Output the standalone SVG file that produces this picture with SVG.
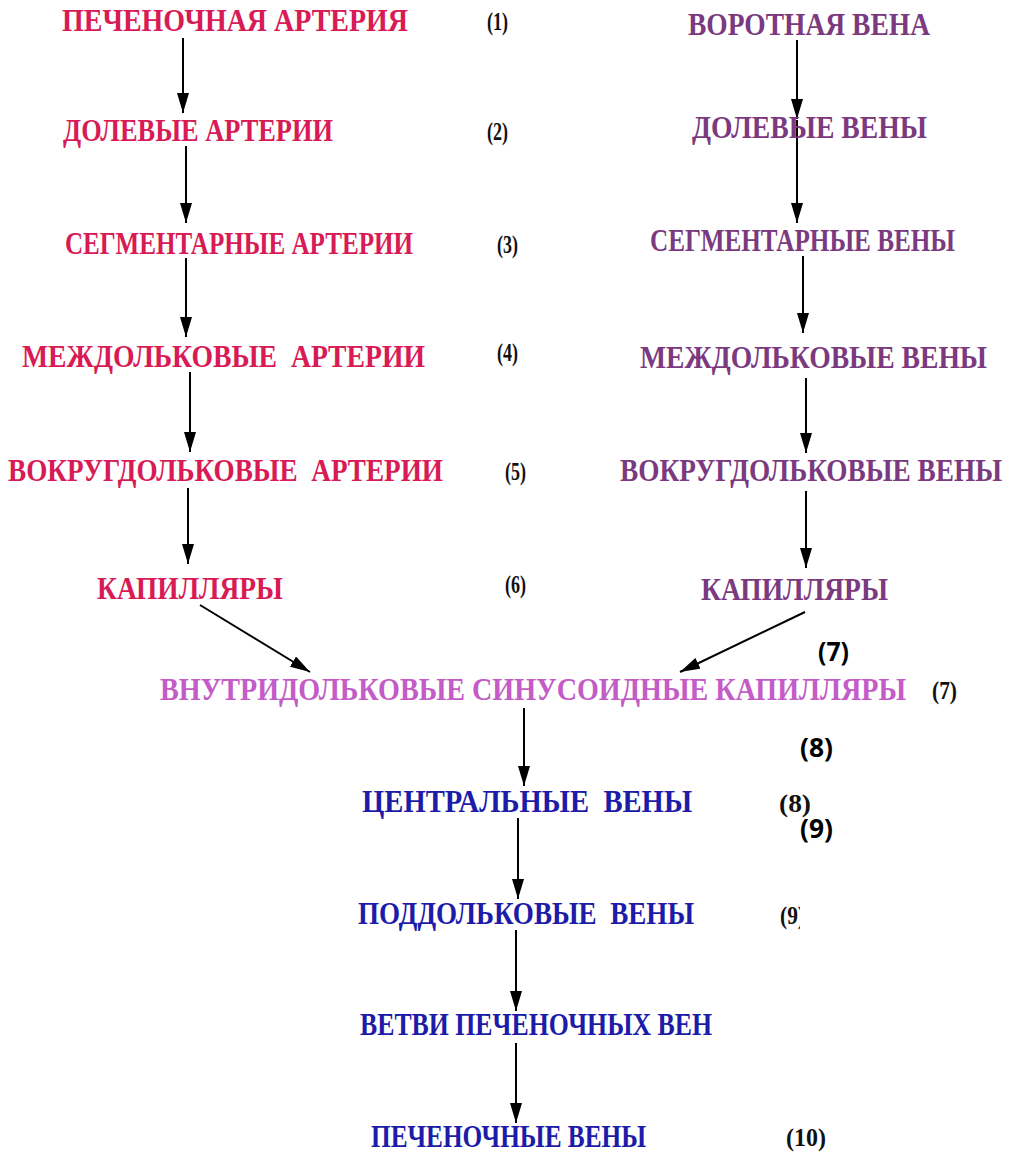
<svg xmlns="http://www.w3.org/2000/svg" width="1019" height="1153" viewBox="0 0 1019 1153">
<defs>
<marker id="ad" viewBox="0 0 20 12" refX="20" refY="6" markerWidth="20" markerHeight="12" markerUnits="userSpaceOnUse" orient="auto">
<path d="M0,0 L20,6 L0,12 Z" fill="#000"/>
</marker>
<clipPath id="cut9"><rect x="700" y="880" width="100" height="60"/></clipPath>
</defs>
<style>
text{font-family:"Liberation Serif","DejaVu Serif",serif;font-weight:bold;font-size:32px}
.r{fill:#d81b55}
.p{fill:#7b3a80}
.m{fill:#c35cc6}
.b{fill:#1c1ca8}
.n{fill:#111;font-size:25px}
.s{fill:#000;font-family:"Open Sans","Liberation Sans",sans-serif;font-size:27px}
.c line{stroke:#000;stroke-width:2}
</style>
<rect width="1019" height="1153" fill="#fff"/>
<g id="connectors" class="c">
<line x1="183" y1="38" x2="183" y2="113" marker-end="url(#ad)"/>
<line x1="186" y1="146" x2="186" y2="223" marker-end="url(#ad)"/>
<line x1="186" y1="258" x2="186" y2="337" marker-end="url(#ad)"/>
<line x1="190" y1="372" x2="190" y2="452" marker-end="url(#ad)"/>
<line x1="188" y1="488" x2="188" y2="564" marker-end="url(#ad)"/>
<line x1="797" y1="40" x2="797" y2="119" marker-end="url(#ad)"/>
<line x1="797" y1="120" x2="797" y2="223" marker-end="url(#ad)"/>
<line x1="803" y1="256" x2="803" y2="333" marker-end="url(#ad)"/>
<line x1="806" y1="378" x2="806" y2="453" marker-end="url(#ad)"/>
<line x1="806" y1="491" x2="806" y2="568" marker-end="url(#ad)"/>
<line x1="200" y1="605" x2="310" y2="672" marker-end="url(#ad)"/>
<line x1="805" y1="612" x2="680" y2="672" marker-end="url(#ad)"/>
<line x1="524" y1="708" x2="524" y2="786" marker-end="url(#ad)"/>
<line x1="518" y1="818" x2="518" y2="899" marker-end="url(#ad)"/>
<line x1="516" y1="930" x2="516" y2="1011" marker-end="url(#ad)"/>
<line x1="516" y1="1043" x2="516" y2="1123" marker-end="url(#ad)"/>
</g>
<g id="n1"><text class="r" x="62" y="31" textLength="346" lengthAdjust="spacingAndGlyphs">ПЕЧЕНОЧНАЯ АРТЕРИЯ</text></g>
<g id="n2"><text class="r" x="63" y="141" textLength="270" lengthAdjust="spacingAndGlyphs">ДОЛЕВЫЕ АРТЕРИИ</text></g>
<g id="n3"><text class="r" x="65" y="254" textLength="348" lengthAdjust="spacingAndGlyphs">СЕГМЕНТАРНЫЕ АРТЕРИИ</text></g>
<g id="n4"><text class="r" x="22" y="367" textLength="403" lengthAdjust="spacingAndGlyphs" xml:space="preserve">МЕЖДОЛЬКОВЫЕ  АРТЕРИИ</text></g>
<g id="n5"><text class="r" x="8" y="481" textLength="435" lengthAdjust="spacingAndGlyphs" xml:space="preserve">ВОКРУГДОЛЬКОВЫЕ  АРТЕРИИ</text></g>
<g id="n6"><text class="r" x="97" y="599" textLength="186" lengthAdjust="spacingAndGlyphs">КАПИЛЛЯРЫ</text></g>
<g id="v1"><text class="p" x="688" y="35" textLength="242" lengthAdjust="spacingAndGlyphs">ВОРОТНАЯ ВЕНА</text></g>
<g id="v2"><text class="p" x="692" y="138" textLength="235" lengthAdjust="spacingAndGlyphs">ДОЛЕВЫЕ ВЕНЫ</text></g>
<g id="v3"><text class="p" x="650" y="251" textLength="305" lengthAdjust="spacingAndGlyphs">СЕГМЕНТАРНЫЕ ВЕНЫ</text></g>
<g id="v4"><text class="p" x="640" y="368" textLength="347" lengthAdjust="spacingAndGlyphs">МЕЖДОЛЬКОВЫЕ ВЕНЫ</text></g>
<g id="v5"><text class="p" x="620" y="481" textLength="382" lengthAdjust="spacingAndGlyphs">ВОКРУГДОЛЬКОВЫЕ ВЕНЫ</text></g>
<g id="v6"><text class="p" x="701" y="600" textLength="187" lengthAdjust="spacingAndGlyphs">КАПИЛЛЯРЫ</text></g>
<g id="m7"><text class="m" x="160" y="700" textLength="746" lengthAdjust="spacingAndGlyphs">ВНУТРИДОЛЬКОВЫЕ СИНУСОИДНЫЕ КАПИЛЛЯРЫ</text></g>
<g id="b8"><text class="b" x="362" y="812" textLength="330" lengthAdjust="spacingAndGlyphs" xml:space="preserve">ЦЕНТРАЛЬНЫЕ  ВЕНЫ</text></g>
<g id="b9"><text class="b" x="358" y="924" textLength="336" lengthAdjust="spacingAndGlyphs" xml:space="preserve">ПОДДОЛЬКОВЫЕ  ВЕНЫ</text></g>
<g id="b10"><text class="b" x="360" y="1035" textLength="352" lengthAdjust="spacingAndGlyphs">ВЕТВИ ПЕЧЕНОЧНЫХ ВЕН</text></g>
<g id="b11"><text class="b" x="371" y="1147" textLength="275" lengthAdjust="spacingAndGlyphs">ПЕЧЕНОЧНЫЕ ВЕНЫ</text></g>
<g id="nums">
<text class="n" x="487" y="30" textLength="21" lengthAdjust="spacingAndGlyphs">(1)</text>
<text class="n" x="487" y="140" textLength="21" lengthAdjust="spacingAndGlyphs">(2)</text>
<text class="n" x="497" y="253" textLength="21" lengthAdjust="spacingAndGlyphs">(3)</text>
<text class="n" x="497" y="361" textLength="21" lengthAdjust="spacingAndGlyphs">(4)</text>
<text class="n" x="505" y="480" textLength="21" lengthAdjust="spacingAndGlyphs">(5)</text>
<text class="n" x="505" y="593" textLength="21" lengthAdjust="spacingAndGlyphs">(6)</text>
<text class="n" x="932" y="699" textLength="25" lengthAdjust="spacingAndGlyphs">(7)</text>
<text class="n" x="779" y="812" textLength="32" lengthAdjust="spacingAndGlyphs">(8)</text>
<text class="n" x="780" y="924" textLength="25" lengthAdjust="spacingAndGlyphs" clip-path="url(#cut9)">(9)</text>
<text class="n" x="786" y="1146" textLength="40" lengthAdjust="spacingAndGlyphs">(10)</text>
<text class="s" x="818" y="661" textLength="31" lengthAdjust="spacingAndGlyphs">(7)</text>
<text class="s" x="800" y="757" textLength="33" lengthAdjust="spacingAndGlyphs">(8)</text>
<text class="s" x="800" y="838" textLength="33" lengthAdjust="spacingAndGlyphs">(9)</text>
</g>
</svg>
